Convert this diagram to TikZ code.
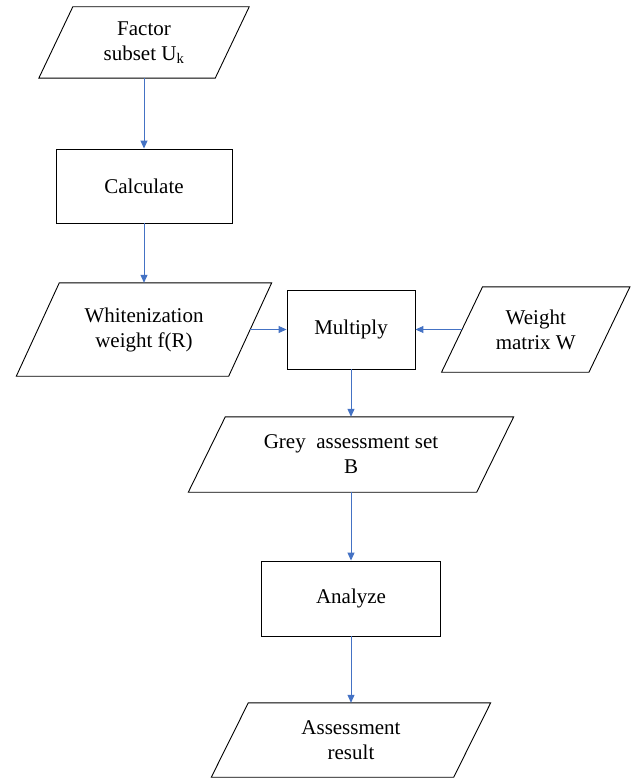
\documentclass[tikz,border=0pt]{standalone}
\usepackage{fontspec}
\setmainfont{Liberation Serif}
\usetikzlibrary{arrows.meta}
\definecolor{flowblue}{HTML}{4472C4}
% slanted data box around a named node: top edge shifted right, bottom edge shifted left
\newcommand{\slantbox}[2]{%
  \draw[line width=0.9pt,line join=miter]
    ([xshift=#2]#1.north west) -- ([xshift=#2]#1.north east) --
    ([xshift=-#2]#1.south east) -- ([xshift=-#2]#1.south west) -- cycle;}
\begin{document}
\begin{tikzpicture}[x=1pt,y=-1pt,
  label text/.style={align=center,inner sep=0pt,font=\fontsize{21}{25}\selectfont},
  procbox/.style={label text,draw=black,line width=0.9pt},
  databox/.style={label text},
  flow/.style={draw=flowblue,line width=1pt,-{Triangle[length=8pt,width=7pt]}}]
\useasboundingbox (0,0) rectangle (632,778);

% left column
\node[databox,minimum width=176pt,minimum height=71pt] (fac) at (144,42.5) {Factor\\subset U\textsubscript{k}};
\slantbox{fac}{17pt}
\node[procbox,minimum width=176pt,minimum height=74pt] (calc) at (144,186) {Calculate};
\node[databox,minimum width=212pt,minimum height=93pt] (wf) at (144,329.5) {Whitenization\\weight f(R)};
\slantbox{wf}{21.5pt}

% centre column
\node[procbox,minimum width=128pt,minimum height=79pt] (mul) at (351,329.5) {Multiply};
\node[databox,minimum width=288pt,minimum height=75pt] (gr) at (351,454.5) {Grey\ \ assessment set\\B};
\slantbox{gr}{18.5pt}
\node[procbox,minimum width=179pt,minimum height=75pt] (an) at (351,598.5) {Analyze};
\node[databox,minimum width=242pt,minimum height=74pt] (ar) at (351,740) {Assessment\\result};
\slantbox{ar}{18.5pt}

% right column
\node[databox,minimum width=147pt,minimum height=85pt] (wm) at (535.75,329.5) {Weight\\matrix W};
\slantbox{wm}{20.5pt}

% connectors
\draw[flow] (fac.south) -- (calc.north);
\draw[flow] (calc.south) -- (wf.north);
\draw[flow] (wf.east) -- (mul.west);
\draw[flow] (wm.west) -- (mul.east);
\draw[flow] (mul.south) -- (gr.north);
\draw[flow] (gr.south) -- (an.north);
\draw[flow] (an.south) -- (ar.north);
\end{tikzpicture}
\end{document}
